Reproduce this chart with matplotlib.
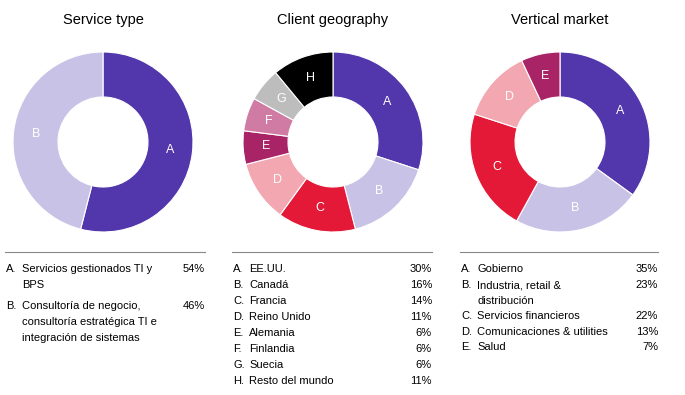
import matplotlib
matplotlib.use("Agg")
import matplotlib.pyplot as plt

plt.rcParams['font.family'] = ['Liberation Sans', 'DejaVu Sans']

# Data
service_labels = ["A", "B"]
service_names = ["Servicios gestionados TI y\nBPS",
                 "Consultoría de negocio,\nconsultoría estratégica TI e\nintegración de sistemas"]
service_values = [54, 46]

geo_labels = ["A", "B", "C", "D", "E", "F", "G", "H"]
geo_names = ["EE.UU.", "Canadá", "Francia", "Reino Unido", "Alemania",
             "Finlandia", "Suecia", "Resto del mundo"]
geo_values = [30, 16, 14, 11, 6, 6, 6, 11]

vert_labels = ["A", "B", "C", "D", "E"]
vert_names = ["Gobierno", "Industria, retail &\ndistribución", "Servicios financieros",
              "Comunicaciones & utilities", "Salud"]
vert_values = [35, 23, 22, 13, 7]

colors = ["#5236AB", "#C8C3E6", "#E31937", "#F2A7B1", "#A82467",
          "#D07BA4", "#BDBDBD", "#000000"]

W, H = 685, 395
fig = plt.figure(figsize=(W / 100, H / 100), dpi=100)


def px(x, y):
    return x / W, 1 - y / H


def donut(cx, cy, r, values, labels, title):
    ax = fig.add_axes([(cx - r) / W, (H - cy - r) / H, 2 * r / W, 2 * r / H])
    ax.pie(values, colors=colors[:len(values)], startangle=90, counterclock=False,
           radius=1, labels=labels, labeldistance=0.75,
           textprops=dict(color="white", fontsize=9, ha="center", va="center"),
           wedgeprops=dict(width=0.5, edgecolor="white", linewidth=0.8))
    ax.set_xlim(-1, 1)
    ax.set_ylim(-1, 1)
    ax.axis("off")
    fig.text(*px(cx, 20), title, ha="center", va="center", fontsize=10.5)


def legend(x0, x1, rows, letters, names, values):
    # separator line above the legend
    fig.add_artist(plt.Line2D([x0 / W, x1 / W], [1 - 252 / H, 1 - 252 / H],
                              color="#888888", linewidth=0.8))
    for y, let, name, val in zip(rows, letters, names, values):
        fig.text(*px(x0 + 1, y), let + ".", ha="left", va="center", fontsize=8)
        for i, ln in enumerate(name.split("\n")):
            fig.text(*px(x0 + 17, y + 16 * i), ln, ha="left", va="center", fontsize=8)
        fig.text(*px(x1, y), f"{val}%", ha="right", va="center", fontsize=8)


donut(103, 142, 90, service_values, service_labels, "Service type")
donut(333, 142, 90, geo_values, geo_labels, "Client geography")
donut(560, 142, 90, vert_values, vert_labels, "Vertical market")

legend(5, 205, [269, 306], service_labels, service_names, service_values)
legend(232, 432, [269 + 16 * i for i in range(8)], geo_labels, geo_names, geo_values)
legend(460, 658, [269, 285, 316, 332, 347], vert_labels, vert_names, vert_values)

fig.savefig("out.png", dpi=100)
